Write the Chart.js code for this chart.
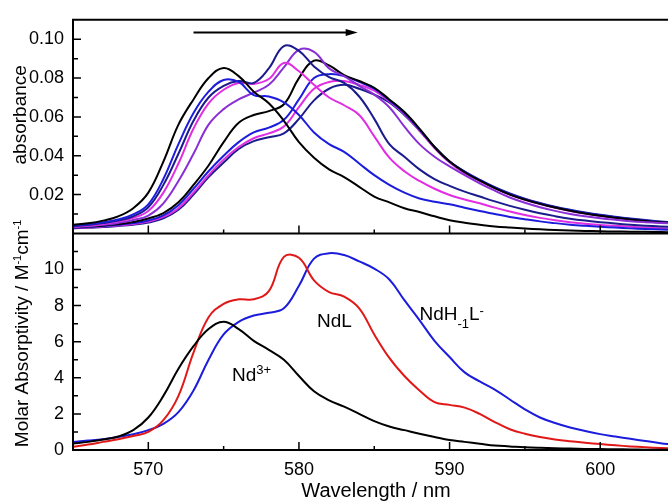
<!DOCTYPE html>
<html>
<head>
<meta charset="utf-8">
<title>Nd(III) absorption spectra</title>
<script src="https://cdn.jsdelivr.net/npm/chart.js@4.4.1/dist/chart.umd.min.js"></script>
<style>
    html, body { margin: 0; padding: 0; background: #ffffff; }
    #wrap { width: 668px; height: 502px; }
</style>
</head>
<body>
<div id="wrap"><canvas id="spectra" width="668" height="502"></canvas></div>
<script>
// Wavelength grid (nm)
const wavelength = [565, 566, 567, 568, 569, 570, 571, 572, 573, 574,
    575, 576, 577, 578, 579, 580, 581, 582, 583, 584,
    585, 586, 587, 588, 589, 590, 591, 592, 593, 594,
    595, 596, 597, 598, 599, 600, 601, 602, 603, 604, 605];

// Top panel: titration spectra (absorbance), in order of the arrow
const spectrum1 = [.0044, .0052, .0066, .0088, .013, .021, .037, .056, .069, .080,
    .0852, .081, .073, .067, .058, .047, .039, .033, .029, .024,
    .019, .016, .013, .011, .0088, .0068, .0055, .0045, .0036, .003,
    .0025, .0021, .0018, .0015, .0013, .0011, .001, .0009, .0008, .0007, .0006];
const spectrum2 = [.0040, .0047, .0057, .0072, .0098, .015, .028, .046, .062, .073,
    .079, .078, .0712, .0705, .0675, .061, .052, .046, .042, .036,
    .030, .025, .021, .018, .0163, .015, .0132, .0115, .010, .0085,
    .0073, .0062, .0053, .0045, .0039, .0034, .003, .0026, .0023, .002, .0018];
const spectrum3 = [.0037, .0044, .0053, .0066, .0088, .0135, .025, .041, .058, .070,
    .076, .0785, .0775, .085, .0965, .094, .086, .0805, .0775, .0705,
    .059, .046, .0395, .033, .028, .0245, .0215, .019, .0165, .0142,
    .0122, .0104, .0089, .0076, .0066, .0058, .0051, .0045, .004, .0036, .0033];
const spectrum4 = [.0035, .0041, .0049, .0061, .008, .0115, .021, .036, .054, .067,
    .074, .0775, .077, .0795, .0878, .0835, .0765, .070, .066, .061,
    .050, .039, .032, .027, .023, .0198, .0175, .0155, .0133, .0113,
    .0095, .008, .0068, .0058, .005, .0044, .0039, .0034, .003, .0027, .0025];
const spectrum5 = [.0031, .0037, .0044, .0054, .0069, .0092, .0155, .027, .041, .056,
    .064, .069, .0725, .0765, .0855, .0945, .0935, .085, .081, .076,
    .0715, .065, .055, .046, .0395, .0345, .030, .0258, .022, .0185,
    .0158, .0135, .0116, .010, .0088, .0078, .007, .0063, .0058, .0054, .0051];
const spectrum6 = [.0031, .0035, .0041, .0048, .0059, .0077, .0105, .016, .025, .035,
    .047, .057, .061, .063, .0665, .080, .089, .0865, .0815, .0785,
    .075, .069, .0625, .054, .0445, .037, .0315, .0272, .0233, .020,
    .0174, .0152, .0133, .0117, .0103, .0091, .0081, .0072, .0064, .0057, .0052];
const spectrum7 = [.0029, .0033, .0038, .0044, .0053, .0067, .0093, .0145, .023, .032,
    .040, .047, .052, .0545, .0585, .069, .080, .082, .081, .078,
    .0745, .0685, .062, .0535, .0445, .037, .0318, .0275, .0236, .0203,
    .0176, .0154, .0135, .0119, .0105, .0093, .0083, .0074, .0066, .0059, .0054];
const spectrum8 = [.0027, .0031, .0036, .0041, .0049, .0061, .0085, .013, .021, .030,
    .038, .0445, .049, .0515, .055, .065, .0745, .078, .0785, .0765,
    .0735, .068, .0615, .053, .044, .0365, .031, .027, .0232, .020,
    .0173, .0151, .0132, .0116, .0102, .009, .008, .0071, .0063, .0056, .0051];
const spectrum9 = [.0026, .0029, .0033, .0038, .0045, .0056, .0078, .0122, .020, .029,
    .0365, .0435, .0475, .0495, .0515, .059, .0685, .0745, .0765, .0745,
    .0715, .0675, .061, .053, .0445, .037, .0318, .0276, .0238, .0206,
    .0179, .0157, .0138, .0122, .0108, .0096, .0086, .0077, .0069, .0062, .0057];

// Bottom panel: molar absorptivity of the species (M-1 cm-1)
const epsNd = [0.36, 0.45, 0.58, 0.75, 1.1, 1.8, 3.0, 4.5, 5.75, 6.7,
    7.1, 6.7, 6.05, 5.55, 5.0, 4.1, 3.25, 2.75, 2.4, 2.0,
    1.6, 1.3, 1.1, 0.9, 0.72, 0.55, 0.45, 0.35, 0.25, 0.2,
    0.15, 0.12, 0.1, 0.08, 0.06, 0.05, 0.04, 0.03, 0.02, 0.01, 0.01];
const epsNdL = [0.18, 0.3, 0.45, 0.6, 0.78, 1.0, 1.65, 3.0, 5.4, 7.35,
    8.1, 8.35, 8.35, 8.8, 10.7, 10.65, 9.4, 8.75, 8.5, 7.85,
    6.4, 5.1, 4.1, 3.3, 2.65, 2.5, 2.35, 2.0, 1.55, 1.15,
    0.9, 0.72, 0.58, 0.48, 0.4, 0.33, 0.26, 0.2, 0.15, 0.11, 0.08];
const epsNdH = [0.45, 0.52, 0.6, 0.72, 0.87, 1.1, 1.45, 2.1, 3.3, 5.0,
    6.4, 7.1, 7.45, 7.6, 7.85, 9.1, 10.6, 10.9, 10.8, 10.45,
    10.05, 9.45, 8.3, 7.2, 6.05, 5.15, 4.3, 3.8, 3.35, 2.8,
    2.25, 1.8, 1.5, 1.25, 1.05, 0.88, 0.75, 0.62, 0.5, 0.38, 0.3];

// Ticks
const xMajorTicks = [570, 580, 590, 600];
const xMinorTicks = [575, 585, 595];
const absMajorTicks = [0.02, 0.04, 0.06, 0.08, 0.10];
const absMinorTicks = [0.01, 0.03, 0.05, 0.07, 0.09];
const epsMajorTicks = [0, 2, 4, 6, 8, 10];
const epsMinorTicks = [1, 3, 5, 7, 9, 11];

// Arrow showing the titration direction (nm, absorbance)
const arrowFrom = 573.0;
const arrowTo = 583.9;
const arrowLevel = 0.1034;

const FONT = '"Liberation Sans", Arial, Helvetica, sans-serif';
const BLACK = '#000000';
const BLUE = '#1c1cdc';
const NAVY = '#1b1b8c';
const MAGENTA = '#e22ee2';
const PURPLE = '#8a2fd6';
const RED = '#e01818';

const topSeries = [
    { values: spectrum1, color: BLACK },
    { values: spectrum2, color: BLUE },
    { values: spectrum3, color: NAVY },
    { values: spectrum4, color: MAGENTA },
    { values: spectrum5, color: PURPLE },
    { values: spectrum6, color: BLACK },
    { values: spectrum7, color: BLUE },
    { values: spectrum8, color: MAGENTA },
    { values: spectrum9, color: NAVY }
];
const bottomSeries = [
    { values: epsNd, color: BLACK },
    { values: epsNdL, color: RED },
    { values: epsNdH, color: BLUE }
];

// Species labels, placed in data coordinates of the lower panel
const speciesLabels = [
    { x: 575.55, y: 3.82, runs: [['Nd', 19, 0], ['3+', 13, -7]] },
    { x: 581.2, y: 6.82, runs: [['NdL', 19, 0]] },
    { x: 588.0, y: 7.2, runs: [['NdH', 19, 0], ['-1', 13, 8], ['L', 19, 0], ['-', 13, -5]] }
];

function toPoints(values) {
    return wavelength.map((w, i) => ({ x: w, y: values[i] }));
}

function runsWidth(ctx, runs) {
    return runs.reduce((sum, [text, size]) => {
        ctx.font = `${size}px ${FONT}`;
        return sum + ctx.measureText(text).width;
    }, 0);
}

function drawRuns(ctx, runs, x, y) {
    let cx = x;
    runs.forEach(([text, size, dy]) => {
        ctx.font = `${size}px ${FONT}`;
        ctx.fillText(text, cx, y + dy);
        cx += ctx.measureText(text).width;
    });
}

// Frame, inward ticks, arrow, titles and labels
const panelFrame = {
    id: 'panelFrame',
    afterDraw(chart) {
        const { ctx, chartArea: area, scales } = chart;
        const x = scales.x, yTop = scales.yTop, yBot = scales.yBot;
        ctx.save();
        ctx.strokeStyle = '#000';
        ctx.fillStyle = '#000';

        // box lines
        ctx.lineWidth = 2;
        ctx.beginPath();
        ctx.moveTo(area.right, yTop.top);
        ctx.lineTo(area.left, yTop.top);
        ctx.lineTo(area.left, yBot.bottom);
        ctx.lineTo(area.right, yBot.bottom);
        ctx.moveTo(area.left, yTop.bottom);
        ctx.lineTo(area.right, yTop.bottom);
        ctx.stroke();

        // tick marks pointing inside
        ctx.lineWidth = 1.5;
        ctx.beginPath();
        const tick = (x1, y1, x2, y2) => { ctx.moveTo(x1, y1); ctx.lineTo(x2, y2); };
        [[yTop, absMajorTicks, absMinorTicks], [yBot, epsMajorTicks, epsMinorTicks]].forEach(([scale, major, minor]) => {
            major.forEach(v => { const py = scale.getPixelForValue(v); tick(area.left, py, area.left + 8, py); });
            minor.forEach(v => { const py = scale.getPixelForValue(v); tick(area.left, py, area.left + 5, py); });
        });
        [yTop.bottom, yBot.bottom].forEach(base => {
            xMajorTicks.forEach(v => { const px = x.getPixelForValue(v); tick(px, base, px, base - 8); });
            xMinorTicks.forEach(v => { const px = x.getPixelForValue(v); tick(px, base, px, base - 4); });
        });
        ctx.stroke();

        // arrow
        const ay = yTop.getPixelForValue(arrowLevel);
        const ax1 = x.getPixelForValue(arrowFrom);
        const ax2 = x.getPixelForValue(arrowTo);
        ctx.lineWidth = 2;
        ctx.beginPath();
        ctx.moveTo(ax1, ay);
        ctx.lineTo(ax2 - 8, ay);
        ctx.stroke();
        ctx.beginPath();
        ctx.moveTo(ax2, ay);
        ctx.lineTo(ax2 - 12, ay - 3.5);
        ctx.lineTo(ax2 - 12, ay + 3.5);
        ctx.closePath();
        ctx.fill();

        // species labels
        ctx.textAlign = 'left';
        ctx.textBaseline = 'alphabetic';
        speciesLabels.forEach(lab => {
            drawRuns(ctx, lab.runs, x.getPixelForValue(lab.x), yBot.getPixelForValue(lab.y));
        });

        // x title
        ctx.textAlign = 'center';
        ctx.font = `20px ${FONT}`;
        ctx.fillText('Wavelength / nm', 376, 497);

        // y titles (rotated)
        ctx.textAlign = 'left';
        ctx.save();
        ctx.translate(26, yTop.top + 95);
        ctx.rotate(-Math.PI / 2);
        const absRuns = [['absorbance', 19, 0]];
        drawRuns(ctx, absRuns, -runsWidth(ctx, absRuns) / 2, 0);
        ctx.restore();

        ctx.save();
        ctx.translate(28, yBot.top + 100);
        ctx.rotate(-Math.PI / 2);
        const epsRuns = [['Molar Absorptivity / M', 19, 0], ['-1', 11, -7], ['cm', 19, 0], ['-1', 11, -7]];
        drawRuns(ctx, epsRuns, -runsWidth(ctx, epsRuns) / 2, 0);
        ctx.restore();

        ctx.restore();
    }
};

function lineDataset(series, axis) {
    return {
        data: toPoints(series.values),
        yAxisID: axis,
        borderColor: series.color,
        backgroundColor: series.color,
        borderWidth: 2,
        pointRadius: 0,
        fill: false,
        tension: 0.4
    };
}

const tickFont = { family: FONT, size: 18 };
const hiddenGrid = { display: false, drawTicks: false };

const ctx = document.getElementById('spectra');
new Chart(ctx, {
    type: 'line',
    data: {
        datasets: [
            ...topSeries.map(s => lineDataset(s, 'yTop')),
            ...bottomSeries.map(s => lineDataset(s, 'yBot'))
        ]
    },
    options: {
        responsive: false,
        animation: false,
        events: [],
        layout: { padding: { top: 13, right: 0, bottom: 0, left: 0 } },
        plugins: { legend: { display: false }, tooltip: { enabled: false } },
        scales: {
            x: {
                type: 'linear',
                position: 'bottom',
                min: 565,
                max: 604.5,
                grid: hiddenGrid,
                border: { display: false },
                ticks: { font: tickFont, color: '#000', padding: 9, maxRotation: 0, callback: v => String(v) },
                afterBuildTicks: s => { s.ticks = xMajorTicks.map(v => ({ value: v })); },
                afterFit: s => { s.height = 52; }
            },
            yTop: {
                type: 'linear',
                position: 'left',
                stack: 'panels',
                stackWeight: 217,
                weight: 1,
                min: 0,
                max: 0.11,
                grid: hiddenGrid,
                border: { display: false },
                ticks: { font: tickFont, color: '#000', padding: 9, callback: v => v.toFixed(2) },
                afterBuildTicks: s => { s.ticks = absMajorTicks.map(v => ({ value: v })); },
                afterFit: s => { s.width = 73; }
            },
            yBot: {
                type: 'linear',
                position: 'left',
                stack: 'panels',
                stackWeight: 220,
                weight: 0,
                min: 0,
                max: 12,
                grid: hiddenGrid,
                border: { display: false },
                ticks: { font: tickFont, color: '#000', padding: 9, callback: v => String(v) },
                afterBuildTicks: s => { s.ticks = epsMajorTicks.map(v => ({ value: v })); },
                afterFit: s => { s.width = 73; }
            }
        }
    },
    plugins: [panelFrame]
});
</script>
</body>
</html>
